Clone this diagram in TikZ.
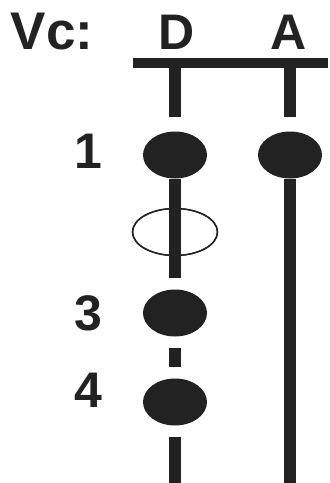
\documentclass[tikz,border=0pt]{standalone}
\usepackage{fontspec}
\setmainfont{Liberation Sans}
\usepackage{tikz}
\usetikzlibrary{positioning, shapes.geometric}

\definecolor{ink}{HTML}{222222}

\tikzset{
  dot/.style={ellipse, fill=ink, minimum width=64pt, minimum height=47pt, inner sep=0pt},
  ring/.style={ellipse, draw=ink, line width=1.4pt, minimum width=85pt, minimum height=47pt, inner sep=0pt},
  lane/.style={draw=ink, line width=12pt},
  lbl/.style={font=\fontsize{50}{50}\selectfont\bfseries, text=ink, inner sep=0pt},
}

\begin{document}
\begin{tikzpicture}[x=1pt, y=-1pt, on grid, node distance=80pt]
        \useasboundingbox (0,0) rectangle (330,483);

        % header
        \node[lbl, font=\fontsize{53}{53}\selectfont\bfseries] (vc) at (52,32) {Vc:};
        \node[lbl] (hd) at (177,32) {D};
        \node[lbl] (ha) at (289,32) {A};
        \coordinate (barL) at (133,63);
        \coordinate (barR) at (328,63);
        \coordinate (dtop) at (175,63);
        \coordinate (atop) at (290,63);

        % states
        \node[dot] (d1) at (175,155) {};
        \node[dot] (a1) [right=115pt of d1] {};
        \node[ring] (d2) [below=77pt of d1] {};
        \node[dot] (d3) [below=158pt of d1] {};
        \node[dot] (d4) [below=89pt of d3] {};
        \coordinate (dend) at (175,483);
        \coordinate (aend) at (290,483);

        \node[lbl] (l1) [left=87pt of d1, yshift=4pt] {1};
        \node[lbl] (l3) [left=87pt of d3] {3};
        \node[lbl] (l4) [left=87pt of d4, yshift=12pt] {4};

        % lines
        \draw[ink, line width=10pt] (barL) -- (barR);
        \path[lane]
        (dtop) edge [shorten >=14pt] (d1)
        (atop) edge [shorten >=14pt] (a1)
        (d1) edge [shorten >=11pt] (d3)
        (d3) edge [shorten <=11pt, shorten >=11pt] (d4)
        (d4) edge [shorten <=11pt] (dend)
        (a1) edge (aend);
        \node[ring] at (d2) {};
\end{tikzpicture}
\end{document}
